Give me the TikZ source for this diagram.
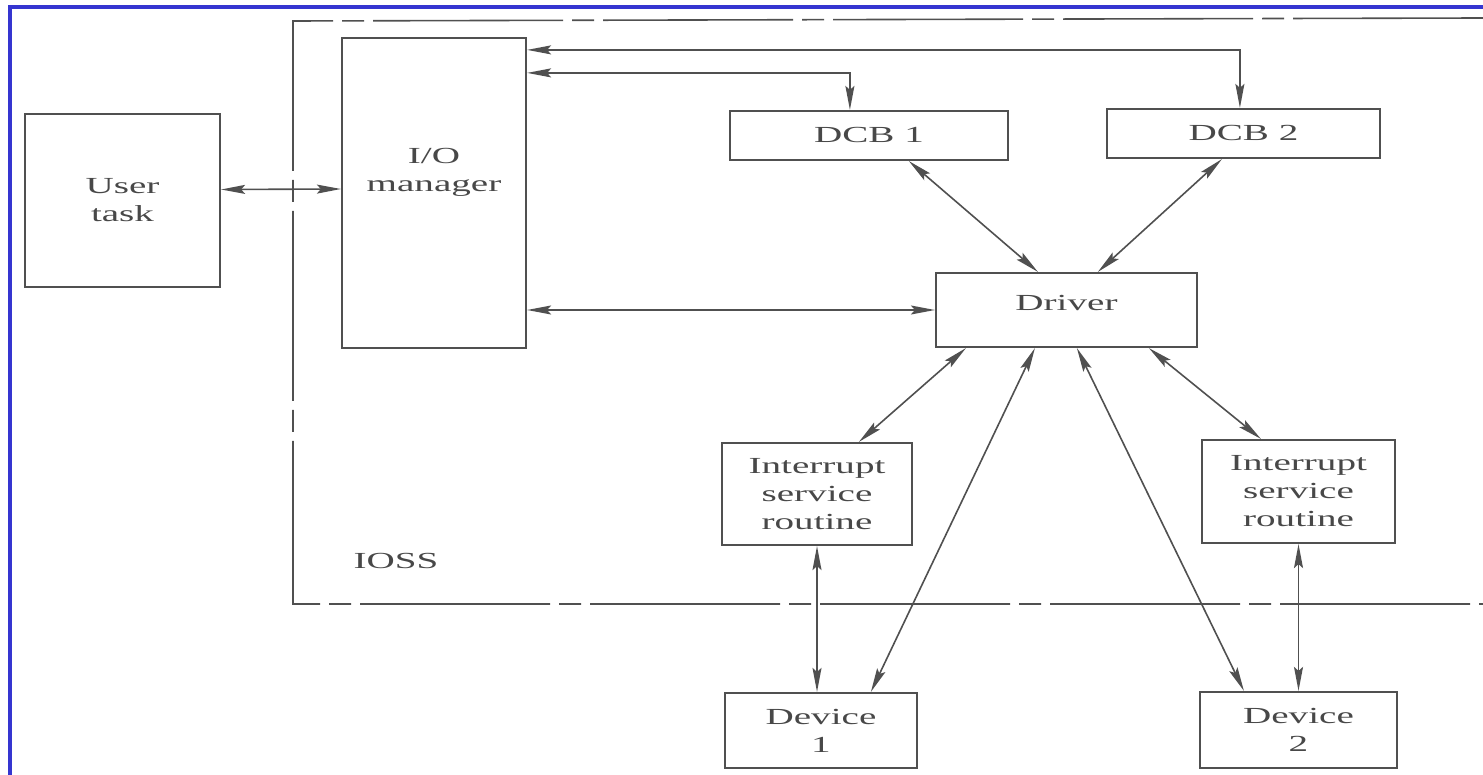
\documentclass[tikz,border=0pt]{standalone}
\usepackage{fontspec}
\setmainfont{Liberation Serif}[FakeStretch=1.7]
\usetikzlibrary{arrows.meta,calc}
\definecolor{cInk}{HTML}{505050}
\definecolor{cText}{HTML}{484848}
\definecolor{cFrame}{HTML}{3535D0}
\tikzset{
  blk/.style={draw=cInk, line width=2.2pt, fill=white, align=center,
              inner sep=0pt, text=cText, font=\fontsize{23}{28}\selectfont},
  ar/.style={{Stealth[length=24pt,width=9pt,inset=4pt]}-{Stealth[length=24pt,width=9pt,inset=4pt]},
             cInk, line width=1.6pt},
  tag/.style={text=cText, align=center, font=\fontsize{23}{28}\selectfont},
  ioss/.style={cInk, line width=1.6pt, dash pattern=on 190pt off 9pt on 22pt off 9pt}
}

\begin{document}
\begin{tikzpicture}[x=1pt,y=-1pt]
\useasboundingbox (0,0) rectangle (1483,775);
% frame and IOSS boundary
\draw[cFrame, line width=4pt] (10,775) -- (10,7) -- (1483,7);
\draw[ioss] (1483,18) -- (293,21) -- (293,604) -- (1483,604);
\node[tag] (iossl) at (396,561) {IOSS};
% boxes
\node[blk, minimum width=195pt, minimum height=173pt] (user) at (122.5,200.5) {User\\task};
\node[blk, minimum width=184pt, minimum height=310pt,
      label={[tag, yshift=21pt]center:{I/O\\manager}}] (io) at (434,193) {};
\node[blk, minimum width=278pt, minimum height=49pt] (dcbA) at (869,135.5) {DCB 1};
\node[blk, minimum width=273pt, minimum height=49pt] (dcbB) at (1243.5,133.5) {DCB 2};
\node[blk, minimum width=261pt, minimum height=74pt,
      label={[tag, yshift=7pt]center:Driver}] (drv) at (1066.5,310) {};
\node[blk, minimum width=190pt, minimum height=102pt] (isrA) at (817,494) {Interrupt\\service\\routine};
\node[blk, minimum width=193pt, minimum height=103pt] (isrB) at (1298.5,491.5) {Interrupt\\service\\routine};
\node[blk, minimum width=192pt, minimum height=75pt] (devA) at (821,730.5) {Device\\1};
\node[blk, minimum width=197pt, minimum height=76pt] (devB) at (1298.5,730) {Device\\2};
% connectors
\draw[ar] ([yshift=11pt]user.east) -- ([yshift=4pt]io.west);
\draw[ar] ([yshift=-13pt]io.north east) -| ([xshift=134pt]dcbB.north west);
\draw[ar] ([yshift=-36pt]io.north east) -| ([xshift=121pt]dcbA.north west);
\draw[ar] (io.east |- drv.west) -- (drv.west);
\draw[ar] ([xshift=180pt]dcbA.south west) -- ([xshift=103pt]drv.north west);
\draw[ar] ([xshift=116pt]dcbB.south west) -- ([xshift=163pt]drv.north west);
\draw[ar] ([xshift=31pt]drv.south west) -- ([xshift=138pt]isrA.north west);
\draw[ar] ([xshift=100pt]drv.south west) -- ([xshift=147pt]devA.north west);
\draw[ar] ([xshift=142pt]drv.south west) -- ([xshift=45pt]devB.north west);
\draw[ar] ([xshift=214pt]drv.south west) -- ([xshift=60pt]isrB.north west);
\draw[ar] (isrA.south) -- (isrA.south |- devA.north);
\draw[ar] (isrB.south) -- (isrB.south |- devB.north);
\end{tikzpicture}
\end{document}
